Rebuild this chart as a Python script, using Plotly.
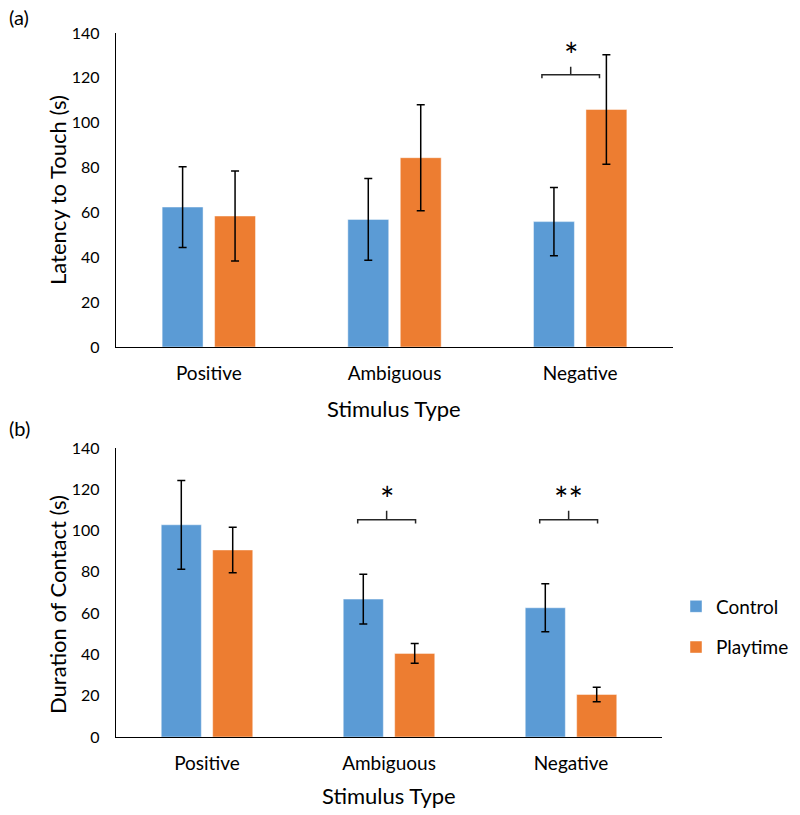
import plotly.graph_objects as go

# data
categories = ['Positive', 'Ambiguous', 'Negative']

# (a) latency to touch (s)
latency_control = [62.4, 56.9, 55.9]
latency_control_err = [18.0, 18.2, 15.2]
latency_playtime = [58.4, 84.4, 105.9]
latency_playtime_err = [20.1, 23.6, 24.4]

# (b) duration of contact (s)
contact_control = [102.8, 66.8, 62.6]
contact_control_err = [21.5, 12.0, 11.6]
contact_playtime = [90.6, 40.5, 20.6]
contact_playtime_err = [11.0, 4.8, 3.5]

# significance brackets: (panel, category index, label)
sig_marks = [('a', 2, '*'), ('b', 1, '*'), ('b', 2, '**')]

y_ticks = [0, 20, 40, 60, 80, 100, 120, 140]

BLUE = '#5B9BD5'
ORANGE = '#ED7D31'
FONT = 'Lato'

W, H = 800, 815


def px_x(x):
    return x / W


def px_y(y):
    return 1 - y / H


fig = go.Figure()

panels = [
    ('a', 'x', 'y', latency_control, latency_control_err, latency_playtime, latency_playtime_err),
    ('b', 'x2', 'y2', contact_control, contact_control_err, contact_playtime, contact_playtime_err),
]

for name, xa, ya, ctl, ctl_err, play, play_err in panels:
    show = name == 'b'
    fig.add_trace(go.Bar(
        x=categories, y=ctl, name='Control', xaxis=xa, yaxis=ya,
        marker=dict(color=BLUE, line=dict(color='rgba(255,255,255,0.45)', width=1)),
        error_y=dict(type='data', array=ctl_err, color='black', thickness=1.5, width=4),
        showlegend=show, legendgroup='ctl',
    ))
    fig.add_trace(go.Bar(
        x=categories, y=play, name='Playtime', xaxis=xa, yaxis=ya,
        marker=dict(color=ORANGE, line=dict(color='rgba(255,255,255,0.45)', width=1)),
        error_y=dict(type='data', array=play_err, color='black', thickness=1.5, width=4),
        showlegend=show, legendgroup='play',
    ))

# bracket geometry per panel: (y level, hook, tick height, left offset, right offset)
bracket_geom = {
    'a': (121.4, 1.6, 3.6, -0.206, 0.104),
    'b': (105.2, 1.8, 4.4, -0.172, 0.146),
}
shapes = []
annotations = []
for panel, idx, label in sig_marks:
    yl, hook, tick, lo, hi = bracket_geom[panel]
    xr = 'x' if panel == 'a' else 'x2'
    yr = 'y' if panel == 'a' else 'y2'
    x0, x1 = idx + lo, idx + hi
    xm = (x0 + x1) / 2
    path = (f'M {x0},{yl - hook} L {x0},{yl} L {x1},{yl} L {x1},{yl - hook} '
            f'M {xm},{yl} L {xm},{yl + tick}')
    shapes.append(dict(type='path', path=path, xref=xr, yref=yr,
                       line=dict(color='#262626', width=1.5)))
    annotations.append(dict(text=label, x=xm, y=yl + tick, xref=xr, yref=yr,
                            showarrow=False, xanchor='center', yanchor='bottom', yshift=-10,
                            font=dict(family=FONT, size=34, color='black')))

# titles and panel letters
annotations += [
    dict(text='(a)', x=px_x(7), y=px_y(17), xanchor='left'),
    dict(text='(b)', x=px_x(7), y=px_y(428), xanchor='left'),
    dict(text='Latency to Touch (s)', x=px_x(57), y=px_y(190), textangle=-90,
         font=dict(family=FONT, size=22, color='black')),
    dict(text='Duration of Contact (s)', x=px_x(57), y=px_y(604), textangle=-90,
         font=dict(family=FONT, size=22, color='black')),
    dict(text='Stimulus Type', x=px_x(394), y=px_y(408),
         font=dict(family=FONT, size=22, color='black')),
    dict(text='Stimulus Type', x=px_x(389), y=px_y(795),
         font=dict(family=FONT, size=22, color='black')),
]
for a in annotations:
    a.setdefault('xref', 'paper')
    a.setdefault('yref', 'paper')
    a.setdefault('showarrow', False)
    a.setdefault('xanchor', 'center')
    a.setdefault('yanchor', 'middle')
    a.setdefault('font', dict(family=FONT, size=20, color='black'))

xaxis_style = dict(showline=True, linecolor='black', linewidth=1.3, ticks='',
                   showgrid=False, zeroline=False, automargin=False,
                   tickfont=dict(family=FONT, size=19, color='black'),
                   ticklabelstandoff=9, fixedrange=True)
yaxis_style = dict(showline=True, linecolor='black', linewidth=1.3, ticks='',
                   showgrid=False, zeroline=False, automargin=False,
                   range=[0, 140], tickvals=y_ticks,
                   tickfont=dict(family=FONT, size=16, color='black'),
                   ticklabelstandoff=12, fixedrange=True)

fig.update_layout(
    width=W, height=H,
    template='none',
    paper_bgcolor='white', plot_bgcolor='white',
    margin=dict(l=0, r=0, t=0, b=0),
    barmode='group', bargap=0.435, bargroupgap=0.22,
    xaxis=dict(domain=[px_x(116), px_x(673)], anchor='y', **xaxis_style),
    yaxis=dict(domain=[px_y(347), px_y(33)], anchor='x', **yaxis_style),
    xaxis2=dict(domain=[px_x(116), px_x(662)], anchor='y2', **xaxis_style),
    yaxis2=dict(domain=[px_y(737), px_y(448)], anchor='x2', **yaxis_style),
    legend=dict(x=px_x(676), y=px_y(627), xanchor='left', yanchor='middle',
                font=dict(family=FONT, size=19, color='black'),
                tracegroupgap=13, bgcolor='rgba(0,0,0,0)'),
    shapes=shapes,
    annotations=annotations,
    showlegend=True,
)

# drop the default page margin so the figure sits at the window's corner
fig.write_html('out.html', config={'displayModeBar': False},
               post_script="document.body.style.margin='0';")
